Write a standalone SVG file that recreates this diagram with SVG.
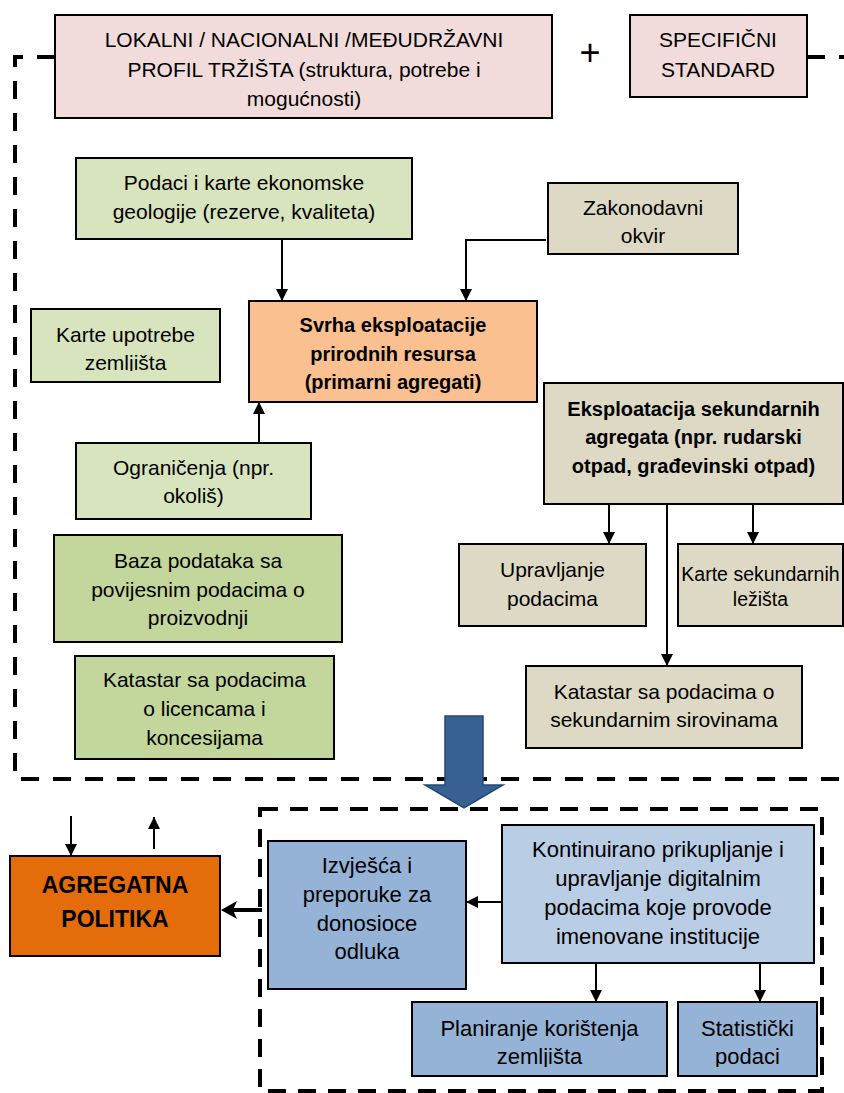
<svg xmlns="http://www.w3.org/2000/svg" width="844" height="1093" viewBox="0 0 844 1093">
<defs>
<marker id="ah" markerUnits="userSpaceOnUse" markerWidth="12" markerHeight="12" refX="12" refY="6" orient="auto" viewBox="0 0 12 12"><path d="M0,0 L12,6 L0,12 z" fill="#000"/></marker>
<marker id="ahb" markerUnits="userSpaceOnUse" markerWidth="16" markerHeight="18" refX="8" refY="9" orient="auto" viewBox="0 0 16 18"><path d="M0,0 L16,9 L0,18 L4,9 z" fill="#000"/></marker>
<clipPath id="c1"><rect x="31" y="309" width="189" height="62"/></clipPath>
<clipPath id="c2"><rect x="412" y="1002" width="405" height="65"/></clipPath>
</defs>
<style>
.b{stroke:#000;stroke-width:2}
.t{font-family:"Liberation Sans",Arial,sans-serif;font-size:21px;fill:#000;text-anchor:middle}
.l{font-size:22px}
.bd{font-weight:bold;font-size:20px}
.c{fill:none;stroke:#000;stroke-width:2}
.d{fill:none;stroke:#000;stroke-width:4;stroke-dasharray:18 14}
</style>
<rect width="844" height="1093" fill="#fff"/>
<g id="frames">
<path class="d" d="M55,57 H15 V779 H844"/>
<path class="d" d="M807,57 H844"/>
<rect class="d" x="260" y="809" width="562" height="282" style="stroke-dasharray:18 12"/>
</g>
<g id="n1"><rect class="b" x="55" y="15" width="497" height="103" fill="#f2dcdb"/>
<text class="t" x="304" y="47">LOKALNI / NACIONALNI /MEĐUDRŽAVNI</text>
<text class="t" x="304" y="77">PROFIL TRŽIŠTA (struktura, potrebe i</text>
<text class="t" x="304" y="106">mogućnosti)</text></g>
<g id="plus"><text class="t" x="590" y="65" style="font-size:36px">+</text></g>
<g id="n2"><rect class="b" x="630" y="15" width="177" height="82" fill="#f2dcdb"/>
<text class="t" x="718" y="47">SPECIFIČNI</text>
<text class="t" x="718" y="77">STANDARD</text></g>
<g id="n3"><rect class="b" x="76" y="158" width="336" height="81" fill="#d7e4bd"/>
<text class="t" x="244" y="190">Podaci i karte ekonomske</text>
<text class="t" x="244" y="219">geologije (rezerve, kvaliteta)</text></g>
<g id="n4"><rect class="b" x="31" y="309" width="189" height="73" fill="#d7e4bd"/>
<g clip-path="url(#c1)"><text class="t" x="125.5" y="342">Karte upotrebe</text>
<text class="t" x="125.5" y="370">zemljišta</text></g></g>
<g id="n5"><rect class="b" x="249" y="301" width="288" height="101" fill="#fac090"/>
<text class="t bd" x="393" y="332">Svrha eksploatacije</text>
<text class="t bd" x="393" y="361">prirodnih resursa</text>
<text class="t bd" x="393" y="389">(primarni agregati)</text></g>
<g id="n6"><rect class="b" x="76" y="443" width="235" height="76" fill="#d7e4bd"/>
<text class="t" x="193.5" y="475">Ograničenja (npr.</text>
<text class="t" x="193.5" y="503">okoliš)</text></g>
<g id="n7"><rect class="b" x="548" y="183" width="190" height="71" fill="#ddd9c4"/>
<text class="t" x="643" y="215">Zakonodavni</text>
<text class="t" x="643" y="243">okvir</text></g>
<g id="n8"><rect class="b" x="544" y="383" width="299" height="121" fill="#ddd9c4"/>
<text class="t bd" x="693.5" y="416">Eksploatacija sekundarnih</text>
<text class="t bd" x="693.5" y="444">agregata (npr. rudarski</text>
<text class="t bd" x="693.5" y="473">otpad, građevinski otpad)</text></g>
<g id="n9"><rect class="b" x="459" y="544" width="187" height="82" fill="#ddd9c4"/>
<text class="t" x="552.5" y="577">Upravljanje</text>
<text class="t" x="552.5" y="606">podacima</text></g>
<g id="n10"><rect class="b" x="678" y="544" width="165" height="82" fill="#ddd9c4"/>
<text class="t" x="760.5" y="581" style="font-size:19.5px">Karte sekundarnih</text>
<text class="t" x="760.5" y="606" style="font-size:19.5px">ležišta</text></g>
<g id="n11"><rect class="b" x="526" y="666" width="276" height="82" fill="#ddd9c4"/>
<text class="t" x="664" y="699">Katastar sa podacima o</text>
<text class="t" x="664" y="727">sekundarnim sirovinama</text></g>
<g id="n12"><rect class="b" x="54" y="535" width="288" height="107" fill="#c3d69b"/>
<text class="t" x="198" y="568">Baza podataka sa</text>
<text class="t" x="198" y="597">povijesnim podacima o</text>
<text class="t" x="198" y="625">proizvodnji</text></g>
<g id="n13"><rect class="b" x="75" y="656" width="259" height="103" fill="#c3d69b"/>
<text class="t" x="204.5" y="687">Katastar sa podacima</text>
<text class="t" x="204.5" y="716">o licencama i</text>
<text class="t" x="204.5" y="745">koncesijama</text></g>
<g id="bigarrow"><polygon points="445,716 483,716 483,785 503,785 464,808 425,785 445,785" fill="#376092" stroke="#254a73" stroke-width="1.5"/></g>
<g id="n14"><rect class="b" x="10" y="856" width="210" height="100" fill="#e46c0a"/>
<text class="t bd" x="115" y="893" style="font-size:23px">AGREGATNA</text>
<text class="t bd" x="115" y="927" style="font-size:23px">POLITIKA</text></g>
<g id="n15"><rect class="b" x="268" y="841" width="198" height="148" fill="#95b3d7"/>
<text class="t l" x="367" y="873">Izvješća i</text>
<text class="t l" x="367" y="902">preporuke za</text>
<text class="t l" x="367" y="931">donosioce</text>
<text class="t l" x="367" y="959">odluka</text></g>
<g id="n16"><rect class="b" x="502" y="825" width="312" height="138" fill="#b9cde5"/>
<text class="t l" x="658" y="857">Kontinuirano prikupljanje i</text>
<text class="t l" x="658" y="886">upravljanje digitalnim</text>
<text class="t l" x="658" y="915">podacima koje provode</text>
<text class="t l" x="658" y="944">imenovane institucije</text></g>
<g id="n17"><rect class="b" x="412" y="1002" width="255" height="74" fill="#95b3d7"/>
<g clip-path="url(#c2)"><text class="t l" x="539.5" y="1036">Planiranje korištenja</text>
<text class="t l" x="539.5" y="1064">zemljišta</text></g></g>
<g id="n18"><rect class="b" x="678" y="1002" width="139" height="74" fill="#95b3d7"/>
<g clip-path="url(#c2)"><text class="t l" x="747.5" y="1036">Statistički</text>
<text class="t l" x="747.5" y="1064">podaci</text></g></g>
<g id="connectors">
<path class="c" d="M282,239 V301" marker-end="url(#ah)"/>
<path class="c" d="M546,240 H466 V301" marker-end="url(#ah)"/>
<path class="c" d="M259,443 V402" marker-end="url(#ah)"/>
<path class="c" d="M609,504 V544" marker-end="url(#ah)"/>
<path class="c" d="M753,504 V544" marker-end="url(#ah)"/>
<path class="c" d="M667,504 V666" marker-end="url(#ah)"/>
<path class="c" d="M596,963 V1002" marker-end="url(#ah)"/>
<path class="c" d="M760,963 V1002" marker-end="url(#ah)"/>
<path class="c" d="M502,902 H466" marker-end="url(#ah)"/>
<path class="c" d="M71,816 V856" marker-end="url(#ah)"/>
<path class="c" d="M154,849 V817" marker-end="url(#ah)"/>
<path class="c" d="M262,910 H229" style="stroke-width:4" marker-end="url(#ahb)"/>
</g>
</svg>
